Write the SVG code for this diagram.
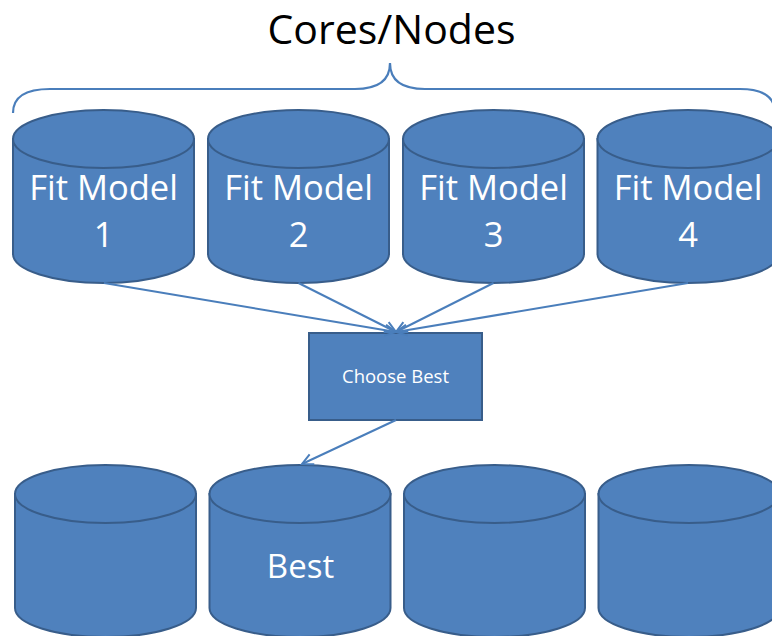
<svg xmlns="http://www.w3.org/2000/svg" width="772" height="636" viewBox="0 0 772 636">
<style>
.cyl{fill:#4F81BD;stroke:#385D8A;stroke-width:2}
.lbl{font-family:"Open Sans","Liberation Sans",sans-serif;fill:#ffffff;text-anchor:middle}
.big{font-size:34.5px}
.conn{fill:none;stroke:#4A7EBB;stroke-width:2}
.brace{fill:none;stroke:#4A7EBB;stroke-width:2.2}
</style>
<defs>
<marker id="arr" markerUnits="userSpaceOnUse" markerWidth="14" markerHeight="14" refX="12" refY="7" orient="auto">
<path d="M1,1.5 L12,7 L1,12.5" fill="none" stroke="#4A7EBB" stroke-width="2"/>
</marker>
</defs>
<rect width="772" height="636" fill="#ffffff"/>
<text x="391.5" y="44" font-family="'Open Sans','Liberation Sans',sans-serif" font-size="41" text-anchor="middle" fill="#000000">Cores/Nodes</text>
<path class="brace" d="M13,113 Q13,89 50,89 L355,89 Q390,89 390,63 Q390,89 425,89 L740,89 Q775,89 775,113"/>
<g id="fit1">
<path class="cyl" d="M13,139 V254 A90.5,29 0 0 0 194,254 V139 Z"/>
<ellipse class="cyl" cx="103.5" cy="139" rx="90.5" ry="29"/>
<text class="lbl big" x="103.5" y="200">Fit Model</text>
<text class="lbl big" x="103.5" y="247">1</text>
</g>
<g id="fit2">
<path class="cyl" d="M208,139 V254 A90.5,29 0 0 0 389,254 V139 Z"/>
<ellipse class="cyl" cx="298.5" cy="139" rx="90.5" ry="29"/>
<text class="lbl big" x="298.5" y="200">Fit Model</text>
<text class="lbl big" x="298.5" y="247">2</text>
</g>
<g id="fit3">
<path class="cyl" d="M403,139 V254 A90.5,29 0 0 0 584,254 V139 Z"/>
<ellipse class="cyl" cx="493.5" cy="139" rx="90.5" ry="29"/>
<text class="lbl big" x="493.5" y="200">Fit Model</text>
<text class="lbl big" x="493.5" y="247">3</text>
</g>
<g id="fit4">
<path class="cyl" d="M597.5,139 V254 A90.5,29 0 0 0 778.5,254 V139 Z"/>
<ellipse class="cyl" cx="688" cy="139" rx="90.5" ry="29"/>
<text class="lbl big" x="688" y="200">Fit Model</text>
<text class="lbl big" x="688" y="247">4</text>
</g>
<g id="choose">
<rect class="cyl" x="309" y="333" width="173" height="87"/>
<text class="lbl" x="395.5" y="383" font-size="18.5">Choose Best</text>
</g>
<g id="out1">
<path class="cyl" d="M15,494 V608 A90.5,29 0 0 0 196,608 V494 Z"/>
<ellipse class="cyl" cx="105.5" cy="494" rx="90.5" ry="29"/>
</g>
<g id="out2">
<path class="cyl" d="M209.5,494 V608 A90.5,29 0 0 0 390.5,608 V494 Z"/>
<ellipse class="cyl" cx="300" cy="494" rx="90.5" ry="29"/>
<text class="lbl" x="300.5" y="578" font-size="33">Best</text>
</g>
<g id="out3">
<path class="cyl" d="M404,494 V608 A90.5,29 0 0 0 585,608 V494 Z"/>
<ellipse class="cyl" cx="494.5" cy="494" rx="90.5" ry="29"/>
</g>
<g id="out4">
<path class="cyl" d="M598.5,494 V608 A90.5,29 0 0 0 779.5,608 V494 Z"/>
<ellipse class="cyl" cx="689" cy="494" rx="90.5" ry="29"/>
</g>
<g id="connectors">
<line class="conn" x1="104" y1="283" x2="396" y2="332" marker-end="url(#arr)"/>
<line class="conn" x1="298.5" y1="283" x2="396" y2="332" marker-end="url(#arr)"/>
<line class="conn" x1="493.5" y1="283" x2="396" y2="332" marker-end="url(#arr)"/>
<line class="conn" x1="688" y1="283" x2="396" y2="332" marker-end="url(#arr)"/>
<line class="conn" x1="396" y1="420" x2="302" y2="464" marker-end="url(#arr)"/>
</g>
</svg>
